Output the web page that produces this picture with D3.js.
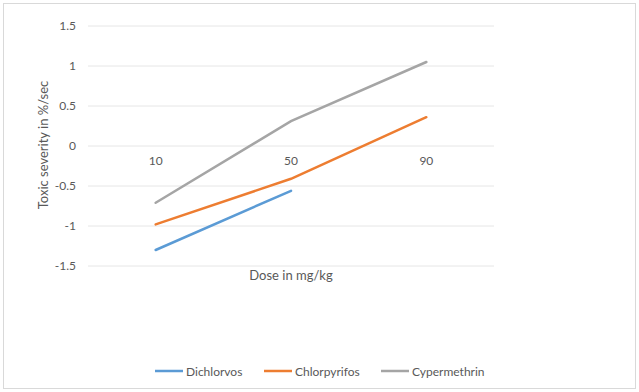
<!DOCTYPE html>
<html><head><meta charset="utf-8">
<script src="https://cdn.jsdelivr.net/npm/d3@7"></script>
<style>body{margin:0;background:#fff;} text{font-family:Lato, "Open Sans", sans-serif;}</style>
</head><body><svg id="c" width="639" height="392"></svg>
<script>
const categories = ["10", "50", "90"];
const yTicks = [-1.5, -1, -0.5, 0, 0.5, 1, 1.5];
const dichlorvos = [-1.3, -0.56, null];
const chlorpyrifos = [-0.98, -0.41, 0.36];
const cypermethrin = [-0.71, 0.31, 1.05];
const seriesNames = ["Dichlorvos", "Chlorpyrifos", "Cypermethrin"];
const colors = ["#5B9BD5", "#ED7D31", "#A5A5A5"];
const series = [dichlorvos, chlorpyrifos, cypermethrin];

const svg = d3.select("#c");
svg.append("rect").attr("x", 3.5).attr("y", 3.5).attr("width", 632).attr("height", 385)
  .attr("fill", "#fff").attr("stroke", "#D9D9D9");

const x = d3.scaleBand().domain(categories).range([88, 494]);
const y = d3.scaleLinear().domain([-1.5, 1.5]).range([266, 26]);
const tc = "#595959";

// gridlines
svg.append("g").selectAll("line").data(yTicks).join("line")
  .attr("x1", 88).attr("x2", 494).attr("y1", d => y(d)).attr("y2", d => y(d))
  .attr("stroke", "#E6E6E6").attr("stroke-width", 1);

// y axis labels
const yAxis = d3.axisLeft(y).tickValues(yTicks).tickSize(0).tickPadding(0).tickFormat(d => String(d));
const gy = svg.append("g").attr("transform", "translate(76,0)").call(yAxis);
gy.select(".domain").remove();
gy.selectAll("text").attr("fill", tc).attr("font-size", 12).style("font-family", "Lato, sans-serif");

// x category labels at y=0 position
const xAxis = d3.axisBottom(x).tickSize(0).tickPadding(0);
const gx = svg.append("g").attr("transform", `translate(0,${y(0) + 10})`).call(xAxis);
gx.select(".domain").remove();
gx.selectAll("text").attr("fill", tc).attr("font-size", 12).style("font-family", "Lato, sans-serif");

// lines
const line = d3.line().defined(d => d != null)
  .x((d, i) => x(categories[i]) + x.bandwidth() / 2).y(d => y(d));
series.forEach((s, k) => {
  svg.append("path").datum(s).attr("d", line).attr("fill", "none")
    .attr("stroke", colors[k]).attr("stroke-width", 2.5).attr("stroke-linecap", "round");
});

// axis titles
svg.append("text").attr("x", 291).attr("y", 280).attr("text-anchor", "middle")
  .attr("fill", tc).attr("font-size", 13).text("Dose in mg/kg");
svg.append("text").attr("transform", "translate(48,145) rotate(-90)").attr("text-anchor", "middle")
  .attr("fill", tc).attr("font-size", 13).text("Toxic severity in %/sec");

// legend
const legX = [155, 264, 381];
seriesNames.forEach((n, k) => {
  const g = svg.append("g").attr("transform", `translate(${legX[k]},371)`);
  g.append("line").attr("x1", 0).attr("x2", 28).attr("stroke", colors[k]).attr("stroke-width", 2.5);
  g.append("text").attr("x", 31).attr("y", 4.5).attr("fill", tc).attr("font-size", 12).text(n);
});
</script></body></html>
